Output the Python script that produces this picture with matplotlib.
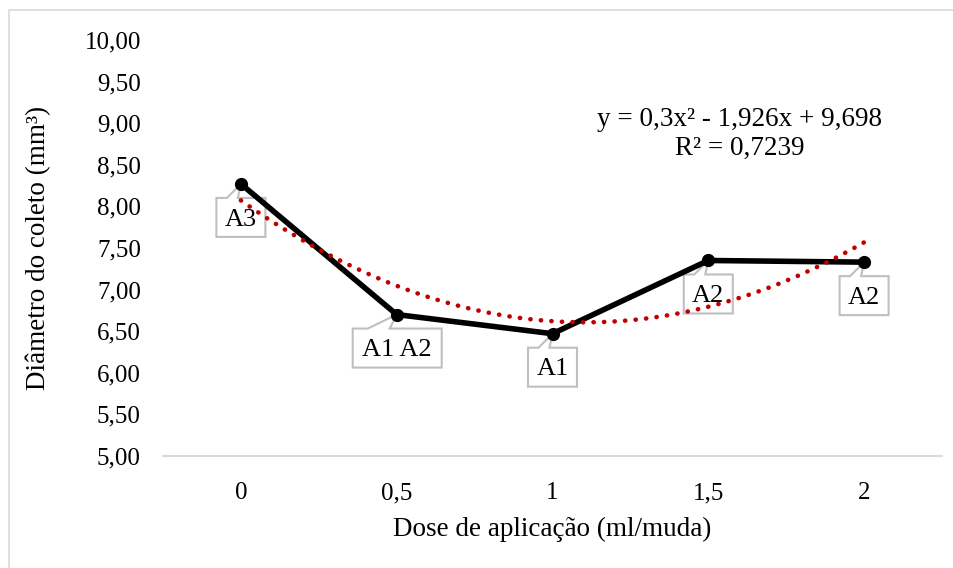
import matplotlib
matplotlib.use("Agg")
import matplotlib.pyplot as plt
import matplotlib.transforms as mtransforms
from matplotlib.patches import Polygon, Rectangle
import numpy as np

plt.rcParams['font.family'] = ['Liberation Serif', 'DejaVu Serif']

# Data
doses = ["0", "0,5", "1", "1,5", "2"]
diametro = [8.27, 6.70, 6.47, 7.35, 7.33]
letras = ["A3", "A1 A2", "A1", "A2", "A2"]
# Quadratic trend (Excel index x = 1..n)
coef = [0.3, -1.926, 9.698]
r2 = 0.7239
y_ticks = [5.0, 5.5, 6.0, 6.5, 7.0, 7.5, 8.0, 8.5, 9.0, 9.5, 10.0]

W, H = 954, 568
fig = plt.figure(figsize=(W / 100, H / 100), dpi=100)
ax = fig.add_axes([163 / W, 1 - 456 / H, (942 - 163) / W, (456 - 40) / H])

# chart frame
fig.patches.append(Rectangle((9 / W, -0.1), 1.2, 1 - 10 / H + 0.1, transform=fig.transFigure,
                             fill=False, ec="#d9d9d9", lw=1.2, zorder=0))

x = np.arange(len(doses))

# trendline
xs = np.linspace(1, len(doses), 200)
ys = np.polyval(coef, xs)
ax.plot(xs - 1, ys, color="#c00000", lw=3.3, linestyle=(0, (0.05, 2.25)),
        dash_capstyle="round", zorder=4)

# observed means
ax.plot(x, diametro, color="black", lw=4.0, marker="o", ms=8.5, zorder=3,
        solid_joinstyle="round")

# callouts (geometry in pixels relative to each point)
px = fig.dpi / 100.0
box_h, box_gap = 39, 14
for xi, yi, lab in zip(x, diametro, letras):
    wide = len(lab) > 2
    bw = 89 if wide else 49
    off = (-44 + bw / 2) if wide else 0
    left, right = off - bw / 2, off + bw / 2
    top, bot = -box_gap, -box_gap - box_h
    wl, wr = (-29, -7) if wide else (-14, -3)
    verts = [(left, top), (wl, top), (0, 0), (wr, top), (right, top),
             (right, bot), (left, bot)]
    verts = [(vx * px, vy * px) for vx, vy in verts]
    tr = mtransforms.ScaledTranslation(xi, yi, ax.transData)
    poly = Polygon(verts, closed=True, fc="white", ec="#bfbfbf", lw=1.5,
                   transform=tr, zorder=1.5, clip_on=False)
    ax.add_patch(poly)
    ax.annotate(lab, xy=(xi, yi), xytext=(off * 0.72, (top + bot) / 2 * 0.72 - 1.5),
                textcoords="offset points", ha="center", va="center",
                fontsize=19, zorder=1.6)

ax.set_xlim(-0.5, len(doses) - 0.5)
ax.set_ylim(5, 10)
ax.set_xticks(x)
ax.set_xticklabels(doses)
ax.set_yticks(y_ticks)
ax.set_yticklabels([f"{v:.2f}".replace(".", ",") for v in y_ticks])
ax.tick_params(axis="both", length=0, labelsize=18)
ax.tick_params(axis="y", pad=16)
ax.tick_params(axis="x", pad=19)
for s in ["left", "right", "top"]:
    ax.spines[s].set_visible(False)
ax.spines["bottom"].set_color("#d9d9d9")
ax.spines["bottom"].set_linewidth(1.5)

ax.set_xlabel("Dose de aplicação (ml/muda)", fontsize=19.5, labelpad=9)
ax.set_ylabel("Diâmetro do coleto (mm³)", fontsize=19.5, labelpad=24)

eq = f"y = {coef[0]}x² - {abs(coef[1])}x + {coef[2]}".replace(".", ",")
r2txt = f"R² = {r2}".replace(".", ",")
ax.text(3.2, 8.876, eq + "\n" + r2txt, ha="center", va="center", fontsize=19.5,
        linespacing=1.2)

fig.savefig("out.png", dpi=100)
